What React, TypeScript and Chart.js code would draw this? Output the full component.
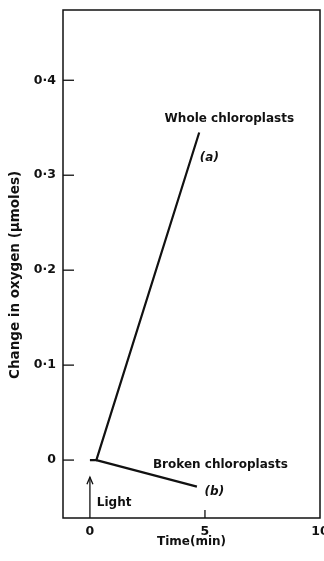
import React, { useEffect, useRef } from "react";
import { Chart, registerables } from "chart.js";
Chart.register(...registerables);

// Data (time in min, change in oxygen in µmoles)
const wholeTime = [0, 0.28, 4.75];
const wholeOxygen = [0, 0, 0.345];
const brokenTime = [0.28, 4.65];
const brokenOxygen = [0, -0.028];

const yTickValues = [0, 0.1, 0.2, 0.3, 0.4];
const yTickLabels = ["0", "0·1", "0·2", "0·3", "0·4"];
const xTickValues = [0, 5, 10];
const xTickLabels = ["0", "5", "10"];

const X_MIN = -1.17;
const X_MAX = 10;
const Y_MIN = -0.061;
const Y_MAX = 0.474;

const FONT = "DejaVu Sans";
const INK = "#111";
const Y_TITLE = "Change in oxygen (μmoles)";
const Y_TITLE_CENTER = 0.195;

type Note = { text: string; x: number; y: number; align: CanvasTextAlign; italic?: boolean };
const notes: Note[] = [
  { text: "Whole chloroplasts", x: 6.06, y: 0.359, align: "center" },
  { text: "(a)", x: 5.19, y: 0.318, align: "center", italic: true },
  { text: "Broken chloroplasts", x: 5.67, y: -0.0053, align: "center" },
  { text: "(b)", x: 5.41, y: -0.034, align: "center", italic: true },
  { text: "Light", x: 0.3, y: -0.045, align: "left" },
];
const arrowX = 0;
const arrowTopY = -0.018;

const decorPlugin = {
  id: "decor",
  afterDatasetsDraw(chart: any) {
    const { ctx, chartArea } = chart;
    const xs = chart.scales.x;
    const ys = chart.scales.y;
    ctx.save();
    ctx.strokeStyle = INK;
    ctx.lineWidth = 1.5;
    ctx.strokeRect(chartArea.left, chartArea.top, chartArea.right - chartArea.left, chartArea.bottom - chartArea.top);
    // inward y ticks
    ctx.lineWidth = 1.3;
    yTickValues.forEach((v) => {
      const py = ys.getPixelForValue(v);
      ctx.beginPath();
      ctx.moveTo(chartArea.left, py);
      ctx.lineTo(chartArea.left + 11, py);
      ctx.stroke();
    });
    // inward x tick at 5
    const p5 = xs.getPixelForValue(5);
    ctx.beginPath();
    ctx.moveTo(p5, chartArea.bottom);
    ctx.lineTo(p5, chartArea.bottom - 8);
    ctx.stroke();
    // Light arrow
    const ax = xs.getPixelForValue(arrowX);
    const at = ys.getPixelForValue(arrowTopY);
    ctx.beginPath();
    ctx.moveTo(ax, chartArea.bottom);
    ctx.lineTo(ax, at);
    ctx.stroke();
    ctx.beginPath();
    ctx.moveTo(ax - 3, at + 7);
    ctx.lineTo(ax, at);
    ctx.lineTo(ax + 3, at + 7);
    ctx.stroke();
    // notes
    ctx.fillStyle = INK;
    ctx.textBaseline = "middle";
    notes.forEach((n) => {
      ctx.font = `${n.italic ? "italic " : ""}bold 12px "${FONT}"`;
      ctx.textAlign = n.align;
      ctx.fillText(n.text, xs.getPixelForValue(n.x), ys.getPixelForValue(n.y));
    });
    // y-axis title
    ctx.save();
    ctx.translate(ys.left + 15, ys.getPixelForValue(Y_TITLE_CENTER));
    ctx.rotate(-Math.PI / 2);
    ctx.textAlign = "center";
    ctx.font = `bold 13.5px "${FONT}"`;
    ctx.fillText(Y_TITLE, 0, 0);
    ctx.restore();
    ctx.restore();
  },
};

export default function App() {
  const ref = useRef<HTMLCanvasElement | null>(null);
  useEffect(() => {
    if (!ref.current) return;
    const chart = new Chart(ref.current, {
      type: "scatter",
      data: {
        datasets: [
          {
            label: "Whole chloroplasts",
            data: wholeTime.map((t, i) => ({ x: t, y: wholeOxygen[i] })),
            showLine: true,
            borderColor: INK,
            borderWidth: 2.2,
            pointRadius: 0,
          },
          {
            label: "Broken chloroplasts",
            data: brokenTime.map((t, i) => ({ x: t, y: brokenOxygen[i] })),
            showLine: true,
            borderColor: INK,
            borderWidth: 2.2,
            pointRadius: 0,
          },
        ],
      },
      options: {
        responsive: false,
        animation: false,
        devicePixelRatio: 1,
        layout: { padding: { top: 10, right: 4, left: 0, bottom: 0 } },
        plugins: { legend: { display: false }, tooltip: { enabled: false } },
        scales: {
          x: {
            type: "linear",
            min: X_MIN,
            max: X_MAX,
            afterBuildTicks: (s: any) => {
              s.ticks = xTickValues.map((v) => ({ value: v }));
            },
            afterFit: (s: any) => {
              s.height = 43;
              s.paddingLeft = 0;
              s.paddingRight = 0;
            },
            grid: { display: false, drawTicks: false },
            border: { display: false },
            ticks: {
              padding: 6,
              color: INK,
              font: { family: FONT, size: 12.5, weight: "bold" },
              callback: (v: any) => xTickLabels[xTickValues.indexOf(Number(v))] ?? "",
              maxRotation: 0,
              autoSkip: false,
            },
            title: {
              display: true,
              text: "Time(min)",
              color: INK,
              font: { family: FONT, size: 12, weight: "bold" },
              padding: { top: 0, bottom: 12 },
            },
          },
          y: {
            type: "linear",
            min: Y_MIN,
            max: Y_MAX,
            afterBuildTicks: (s: any) => {
              s.ticks = yTickValues.map((v) => ({ value: v }));
            },
            afterFit: (s: any) => {
              s.width = 63;
              s.paddingTop = 0;
              s.paddingBottom = 0;
            },
            grid: { display: false, drawTicks: false },
            border: { display: false },
            ticks: {
              padding: 7,
              color: INK,
              font: { family: FONT, size: 12.5, weight: "bold" },
              callback: (v: any) => yTickLabels[yTickValues.indexOf(Number(v))] ?? "",
              autoSkip: false,
            },
            title: { display: false },
          },
        },
      },
      plugins: [decorPlugin],
    } as any);
    return () => chart.destroy();
  }, []);
  return (
    <canvas
      ref={ref}
      width={324}
      height={561}
      style={{ position: "absolute", left: 0, top: 0, display: "block", background: "#fff" }}
    />
  );
}
